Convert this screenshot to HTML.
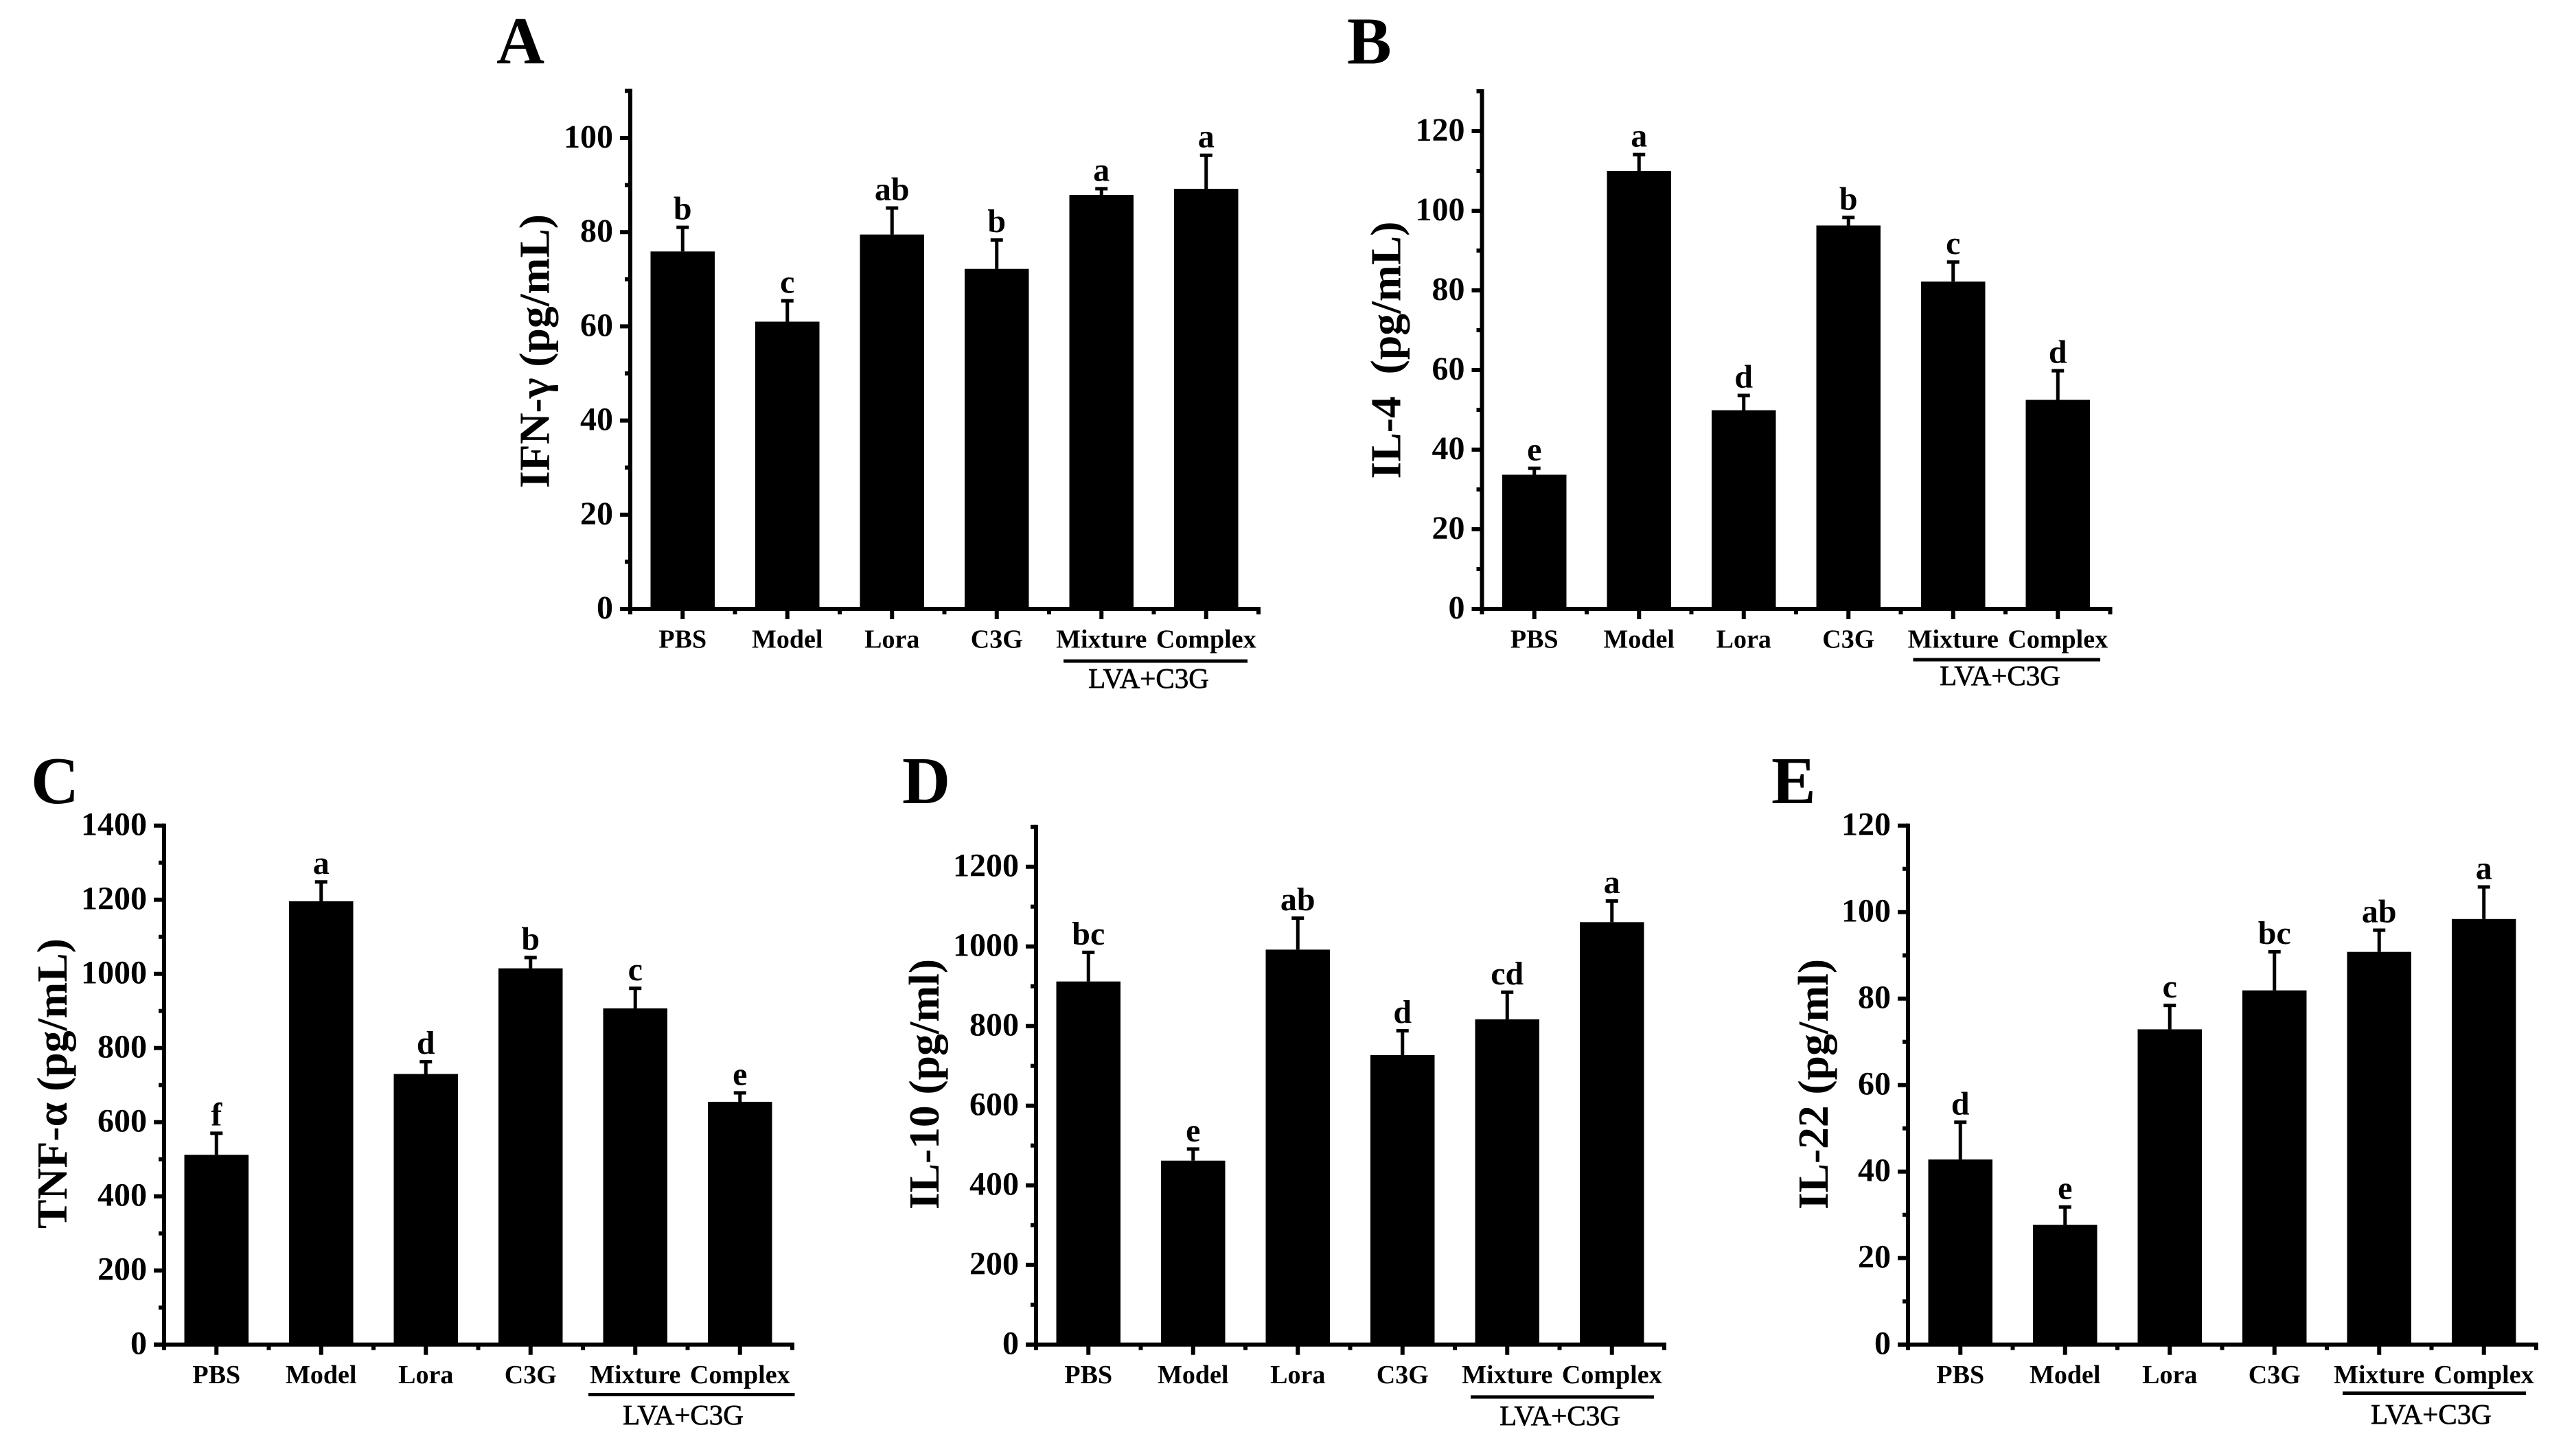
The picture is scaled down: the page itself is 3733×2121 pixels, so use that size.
<!DOCTYPE html>
<html lang="en">
<head>
<meta charset="utf-8">
<title>Cytokine levels bar charts</title>
<style>
html,body{margin:0;padding:0;background:#fff;}
svg{display:block;}
text{font-family:"Liberation Serif","DejaVu Serif",serif;font-weight:bold;fill:#000;}
</style>
</head>
<body>
<svg id="figure" xmlns="http://www.w3.org/2000/svg" width="3733" height="2121" viewBox="0 0 3733 2121"></svg>
<script>
const categories = ['PBS', 'Model', 'Lora', 'C3G', 'Mixture', 'Complex'];
const groupLabel = 'LVA+C3G';

const aMeans = [75.9, 61.0, 79.5, 72.2, 87.9, 89.2];
const aErrors = [5.2, 4.5, 5.7, 6.2, 1.4, 7.2];
const aLetters = ['b', 'c', 'ab', 'b', 'a', 'a'];
const aTicks = [0, 20, 40, 60, 80, 100];

const bMeans = [33.7, 110.0, 49.9, 96.3, 82.2, 52.5];
const bErrors = [1.7, 4.2, 3.8, 2.1, 5.0, 7.4];
const bLetters = ['e', 'a', 'd', 'b', 'c', 'd'];
const bTicks = [0, 20, 40, 60, 80, 100, 120];

const cMeans = [512, 1196, 730, 1015, 907, 655];
const cErrors = [59, 53, 34, 30, 55, 25];
const cLetters = ['f', 'a', 'd', 'b', 'c', 'e'];
const cTicks = [0, 200, 400, 600, 800, 1000, 1200, 1400];

const dMeans = [912, 462, 992, 727, 817, 1061];
const dErrors = [74, 30, 80, 62, 69, 54];
const dLetters = ['bc', 'e', 'ab', 'd', 'cd', 'a'];
const dTicks = [0, 200, 400, 600, 800, 1000, 1200];

const eMeans = [42.8, 27.7, 72.9, 81.9, 90.8, 98.4];
const eErrors = [8.7, 4.2, 5.6, 9.0, 5.1, 7.5];
const eLetters = ['d', 'e', 'c', 'bc', 'ab', 'a'];
const eTicks = [0, 20, 40, 60, 80, 100, 120];

const SVGNS = 'http://www.w3.org/2000/svg';
const figure = document.getElementById('figure');
const STEP = 152.5, BAR_W = 93.5, LW = 6;

function make(parent, tag, attrs, content) {
  const node = document.createElementNS(SVGNS, tag);
  for (const k in attrs) node.setAttribute(k, attrs[k]);
  if (content !== undefined) node.textContent = content;
  parent.appendChild(node);
  return node;
}

function drawPanel(p) {
  const g = make(figure, 'g', {});
  
  

  const yScale = v => p.y0 - v * p.pxPerUnit;
  const xScale = i => p.x0 + STEP * (i + 0.5);

  const letter = make(g, 'text', {x: p.letterX, y: p.letterY, 'font-size': 97}, p.id);
  
  

  const title = make(g, 'text', {
    transform: 'translate(' + p.titleX + ',' + p.titleBottom + ') rotate(-90)',
    'font-size': 62, textLength: p.titleLen, lengthAdjust: 'spacingAndGlyphs'
  }, p.title);
  
  

  // bars
  p.means.forEach((v, i) => {
    const top = yScale(v);
    const bar = make(g, 'rect', {x: xScale(i) - BAR_W / 2, y: top, width: BAR_W, height: p.y0 - top, fill: '#000'});
    
    

    const errTop = yScale(v + p.errors[i]);
    const stem = make(g, 'rect', {x: xScale(i) - 2.5, y: errTop, width: 5, height: top - errTop, fill: '#000'});
    
    
    const cap = make(g, 'rect', {x: xScale(i) - 9, y: errTop - 2, width: 18, height: 5, fill: '#000'});
    
    

    const sig = make(g, 'text', {x: xScale(i), y: errTop - 11, 'font-size': 48, 'text-anchor': 'middle'}, p.letters[i]);
    
    
  });

  // y axis
  const xEnd = p.x0 + STEP * categories.length;
  const yAxis = make(g, 'rect', {x: p.x0 - LW / 2, y: yScale(p.yMax) - 3, width: LW, height: p.y0 - yScale(p.yMax) + 11, fill: '#000'});
  
  

  p.ticks.forEach(t => {
    const tick = make(g, 'rect', {x: p.x0 - 15, y: yScale(t) - 3, width: 15, height: LW, fill: '#000'});
    
    
    const lab = make(g, 'text', {x: p.x0 - 25, y: yScale(t) + 14, 'font-size': 48, 'text-anchor': 'end'}, String(t));
    
    
  });
  const minorStep = (p.ticks[1] - p.ticks[0]) / 2;
  for (let k = 1; k * minorStep <= p.yMax; k += 2) {
    const m = make(g, 'rect', {x: p.x0 - 8, y: yScale(k * minorStep) - 3, width: 8, height: LW, fill: '#000'});
    
    
  }

  // x axis
  const xAxis = make(g, 'rect', {x: p.x0 - 15, y: p.y0 - LW / 2, width: xEnd - p.x0 + 18, height: LW, fill: '#000'});
  
  

  categories.forEach((c, i) => {
    const tick = make(g, 'rect', {x: xScale(i) - 3, y: p.y0, width: LW, height: 15, fill: '#000'});
    
    
    const m = make(g, 'rect', {x: p.x0 + STEP * (i + 1) - 3, y: p.y0, width: LW, height: 8, fill: '#000'});
    
    
    const lab = make(g, 'text', {x: xScale(i), y: p.y0 + 56.5, 'font-size': 38, 'text-anchor': 'middle'}, c);
    
    
  });

  // group bracket
  const line = make(g, 'rect', {x: p.groupX1, y: p.groupY - 2.5, width: p.groupX2 - p.groupX1, height: 5, fill: '#000'});
  
  
  const grp = make(g, 'text', {x: p.groupTextX - 1, y: p.groupTextY - 1, 'font-size': 41, style: 'font-weight:normal;stroke:#000;stroke-width:0.7', 'text-anchor': 'middle'}, groupLabel);
  
  
}

drawPanel({id: 'A', means: aMeans, errors: aErrors, letters: aLetters, ticks: aTicks, yMax: 110,
  x0: 918, y0: 887, pxPerUnit: 6.86,
  letterX: 723, letterY: 92.5, title: 'IFN-γ (pg/mL)', titleX: 799.5, titleBottom: 711, titleLen: 399,
  groupX1: 1549, groupX2: 1817, groupY: 963, groupTextX: 1674, groupTextY: 1003});

drawPanel({id: 'B', means: bMeans, errors: bErrors, letters: bLetters, ticks: bTicks, yMax: 130,
  x0: 2158.5, y0: 887, pxPerUnit: 5.8,
  letterX: 1962, letterY: 92.5, title: 'IL-4\u00A0\u00A0(pg/mL)', titleX: 2039.5, titleBottom: 697.5, titleLen: 375,
  groupX1: 2786.5, groupX2: 3059, groupY: 961, groupTextX: 2914, groupTextY: 999});

drawPanel({id: 'C', means: cMeans, errors: cErrors, letters: cLetters, ticks: cTicks, yMax: 1400,
  x0: 239, y0: 1958.7, pxPerUnit: 0.54,
  letterX: 45, letterY: 1170, title: 'TNF-α (pg/mL)', titleX: 97, titleBottom: 1790, titleLen: 423,
  groupX1: 857, groupX2: 1157.5, groupY: 2031.5, groupTextX: 996, groupTextY: 2076});

drawPanel({id: 'D', means: dMeans, errors: dErrors, letters: dLetters, ticks: dTicks, yMax: 1300,
  x0: 1509, y0: 1958.7, pxPerUnit: 0.58,
  letterX: 1314, letterY: 1170, title: 'IL-10 (pg/ml)', titleX: 1367, titleBottom: 1762, titleLen: 365,
  groupX1: 2142, groupX2: 2409, groupY: 2035, groupTextX: 2273, groupTextY: 2077});

drawPanel({id: 'E', means: eMeans, errors: eErrors, letters: eLetters, ticks: eTicks, yMax: 120,
  x0: 2779, y0: 1958.7, pxPerUnit: 6.3,
  letterX: 2580, letterY: 1170, title: 'IL-22 (pg/ml)', titleX: 2662, titleBottom: 1762, titleLen: 365,
  groupX1: 3412, groupX2: 3679, groupY: 2029.5, groupTextX: 3542, groupTextY: 2075});
</script>
</body>
</html>
